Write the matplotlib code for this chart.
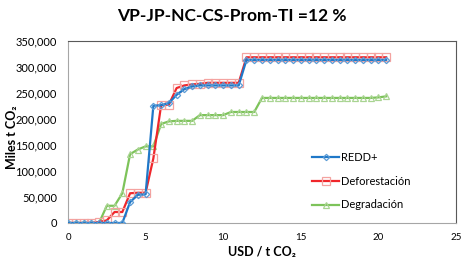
import numpy as np
import matplotlib
matplotlib.use('Agg')
import matplotlib.pyplot as plt
from matplotlib.ticker import FuncFormatter

plt.rcParams['font.family'] = ['Lato', 'DejaVu Sans']

# precio (USD / t CO2)
precio = [0, 0.5, 1, 1.5, 2, 2.5, 3, 3.5, 4, 4.5, 5, 5.5, 6, 6.5, 7, 7.5, 8, 8.5,
          9, 9.5, 10, 10.5, 11, 11.5, 12, 12.5, 13, 13.5, 14, 14.5, 15, 15.5,
          16, 16.5, 17, 17.5, 18, 18.5, 19, 19.5, 20, 20.5]

redd = [0, 0, 0, 0, 0, 0, 0, 0, 40000, 54000, 55000, 225000, 226000, 230000,
        246000, 257000, 262000, 264000, 264000, 264000, 264000, 264000, 264000,
        313000, 313000, 313000, 313000, 313000, 313000, 313000, 313000, 313000,
        313000, 313000, 313000, 313000, 313000, 313000, 313000, 313000, 313000,
        313000]

defor = [0, 0, 0, 0, 2000, 5000, 21000, 21000, 57000, 58000, 58000, 124000,
         226000, 227000, 259000, 264000, 266000, 267000, 269000, 269000, 269000,
         269000, 269000, 318000, 318000, 318000, 318000, 318000, 318000, 318000,
         318000, 318000, 318000, 318000, 318000, 318000, 318000, 318000, 318000,
         318000, 318000, 318000]

degra = [0, 0, 0, 0, 0, 33000, 33000, 57000, 132000, 141000, 147000, 147000,
         190000, 195000, 196000, 196000, 196000, 207000, 207000, 207000, 207000,
         213000, 213000, 213000, 213000, 240000, 240000, 240000, 240000, 240000,
         240000, 240000, 240000, 240000, 240000, 240000, 240000, 240000, 240000,
         240000, 241000, 243000]

fig = plt.figure(figsize=(4.68, 2.62), dpi=100)
ax = fig.add_axes([0.1453, 0.149, 0.829, 0.696])

ax.plot(precio, redd, color='#1F78C8', lw=1.6, marker='D', ms=3.2,
        mfc='none', mec='#5B9BD5', mew=0.9, label='REDD+', zorder=3)
ax.plot(precio, defor, color='#F0262B', lw=1.6, marker='s', ms=5.5,
        mfc='none', mec='#F4A3A0', mew=0.9, label='Deforestación', zorder=2)
ax.plot(precio, degra, color='#7DC35A', lw=1.6, marker='^', ms=5,
        mfc='none', mec='#A9D492', mew=0.9, label='Degradación', zorder=1)

ax.set_xlim(0, 25)
ax.set_ylim(0, 350000)
ax.set_xticks([0, 5, 10, 15, 20, 25])
ax.set_yticks(np.arange(0, 350001, 50000))
ax.yaxis.set_major_formatter(FuncFormatter(lambda v, p: '{:,.0f}'.format(v)))
ax.tick_params(axis='both', length=0, colors='#000000')
ax.tick_params(axis='y', labelsize=8, pad=8)
ax.tick_params(axis='x', labelsize=7, pad=7)

for s in ['left', 'bottom']:
    ax.spines[s].set_color('#A6A6A6')
for s in ['top', 'right']:
    ax.spines[s].set_color('#595959')

ax.set_xlabel('USD / t CO₂', fontsize=9, fontweight='bold')
ax.set_ylabel('Miles t CO₂', fontsize=9, fontweight='bold')
ax.xaxis.set_label_coords(0.5, -0.125)
ax.yaxis.set_label_coords(-0.13, 0.47)

fig.text(0.495, 0.94, 'VP-JP-NC-CS-Prom-TI =12 %', ha='center', va='center',
         fontsize=12.5, fontweight='bold')

ax.legend(loc='upper left', bbox_to_anchor=(0.63, 0.39), frameon=False,
          fontsize=8, handlelength=2.4, handletextpad=0.2, labelspacing=1.15,
          borderpad=0, borderaxespad=0)

fig.savefig('out.png', dpi=100)
